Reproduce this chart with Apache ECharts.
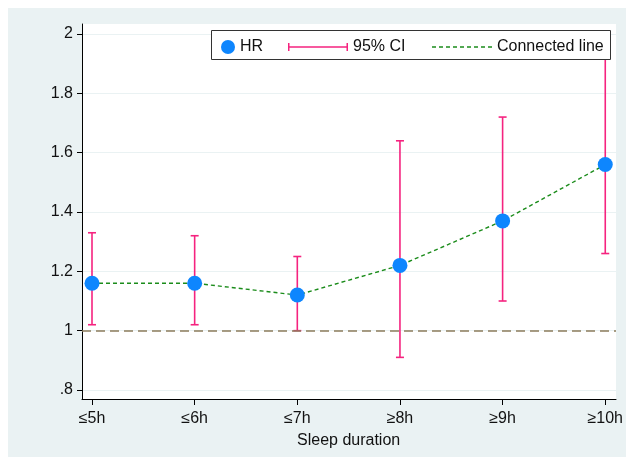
<!DOCTYPE html>
<html><head><meta charset="utf-8">
<script src="https://cdn.jsdelivr.net/npm/echarts@6/dist/echarts.min.js"></script>
<style>html,body{margin:0;padding:0;background:#fff}#c{width:626px;height:457px}</style>
</head><body><div id="c"></div>
<script>
const categories = ['≤5h', '≤6h', '≤7h', '≥8h', '≥9h', '≥10h'];
const hr = [1.16, 1.16, 1.12, 1.22, 1.37, 1.56];
const ciLow = [1.02, 1.02, 1.00, 0.91, 1.10, 1.26];
const ciHigh = [1.33, 1.32, 1.25, 1.64, 1.72, 2.00];
const yTicks = [0.8, 1.0, 1.2, 1.4, 1.6, 1.8, 2.0];
const refValue = 1;

const FONT = 'Liberation Sans, Arial, sans-serif';
const FS = 16;
const BG = '#EAF2F3';
const BLUE = '#0E86FE';
const PINK = '#F5237F';
const GREEN = '#1B8C1B';

let dashPath = 'path://';
for (let x = 0; x < 60; x += 7) dashPath += 'M' + x + ',0h4v1.4h-4z ';

const chart = echarts.init(document.getElementById('c'), null, {renderer: 'canvas'});
const ciData = categories.map((c, i) => [i, ciLow[i], ciHigh[i]]);
const legText = {fontSize: FS, color: '#111', fontFamily: FONT};

chart.setOption({
  backgroundColor: '#fff',
  animation: false,
  textStyle: {fontFamily: FONT},
  graphic: [
    {type: 'rect', z: -100, silent: true, shape: {x: 8, y: 8, width: 618, height: 449}, style: {fill: BG}},
    {type: 'rect', z: 50, silent: true, shape: {x: 211.5, y: 30.5, width: 399, height: 29}, style: {fill: '#fff', stroke: '#333', lineWidth: 1}}
  ],
  grid: [
    {left: 82, top: 24, width: 534, height: 375, show: true, backgroundColor: '#fff', borderWidth: 0},
    {left: 82, top: 34, width: 534, height: 356},
    {left: 92, top: 34, width: 514, height: 356}
  ],
  xAxis: [
    {gridIndex: 0, type: 'value', min: 0, max: 1, axisLine: {show: true, onZero: false, lineStyle: {color: '#000', width: 1}},
     axisTick: {show: false}, axisLabel: {show: false}, splitLine: {show: false}},
    {gridIndex: 1, type: 'value', min: 0, max: 1, show: false},
    {gridIndex: 2, type: 'category', data: categories, boundaryGap: false, offset: 9,
     axisLine: {show: false, onZero: false}, axisTick: {show: true, length: 6, lineStyle: {color: '#000'}},
     axisLabel: {color: '#111', fontSize: FS, fontFamily: FONT, margin: 12},
     name: 'Sleep duration', nameLocation: 'middle', nameGap: 34,
     nameTextStyle: {color: '#111', fontSize: FS, fontFamily: FONT}}
  ],
  yAxis: [
    {gridIndex: 0, type: 'value', min: 0, max: 1, axisLine: {show: true, onZero: false, lineStyle: {color: '#000', width: 1}},
     axisTick: {show: false}, axisLabel: {show: false}, splitLine: {show: false}},
    {gridIndex: 1, type: 'value', min: yTicks[0], max: yTicks[yTicks.length - 1], interval: 0.2,
     axisLine: {show: false}, axisTick: {show: true, length: 5, lineStyle: {color: '#000'}},
     axisLabel: {color: '#111', fontSize: FS, fontFamily: FONT, margin: 9,
       formatter: v => { const s = String(+v.toFixed(1)); return s.startsWith('0.') ? s.slice(1) : s; }},
     splitLine: {show: true, lineStyle: {color: BG, width: 1}}},
    {gridIndex: 2, type: 'value', min: yTicks[0], max: yTicks[yTicks.length - 1], show: false}
  ],
  legend: [
    {data: [{name: 'HR', icon: 'circle'}], left: 216, top: 34, itemWidth: 14, itemHeight: 14,
     textStyle: legText, selectedMode: false, z: 60},
    {data: [{name: '95% CI', icon: 'path://M0,0h1.5v8h-1.5z M0,3.25h60v1.5h-60z M58.5,0h1.5v8h-1.5z', itemStyle: {color: PINK}}],
     left: 283, top: 34, itemWidth: 60, itemHeight: 8,
     textStyle: legText, selectedMode: false, z: 60},
    {data: [{name: 'Connected line', icon: dashPath, itemStyle: {color: GREEN}}], left: 427, top: 34, itemWidth: 60, itemHeight: 1.4,
     textStyle: legText, selectedMode: false, z: 60}
  ],
  series: [
    {type: 'line', xAxisIndex: 1, yAxisIndex: 1, data: [], silent: true,
     markLine: {silent: true, symbol: 'none', label: {show: false},
       lineStyle: {color: '#8C7C5C', width: 1.6, type: [9, 5]}, data: [{yAxis: refValue}]}},
    {name: '95% CI', type: 'custom', xAxisIndex: 2, yAxisIndex: 2, clip: false, z: 3,
     itemStyle: {color: PINK},
     renderItem: (params, api) => {
       const x = api.value(0);
       const lo = api.coord([x, api.value(1)]);
       const hi = api.coord([x, api.value(2)]);
       const w = 4;
       const st = {stroke: PINK, lineWidth: 1.6};
       return {type: 'group', children: [
         {type: 'line', shape: {x1: lo[0], y1: lo[1], x2: hi[0], y2: hi[1]}, style: st},
         {type: 'line', shape: {x1: lo[0] - w, y1: lo[1], x2: lo[0] + w, y2: lo[1]}, style: st},
         {type: 'line', shape: {x1: hi[0] - w, y1: hi[1], x2: hi[0] + w, y2: hi[1]}, style: st}
       ]};
     },
     encode: {x: 0, y: [1, 2]}, data: ciData},
    {name: 'Connected line', type: 'line', xAxisIndex: 2, yAxisIndex: 2, data: hr, symbol: 'none', z: 4,
     itemStyle: {color: GREEN}, lineStyle: {color: GREEN, width: 1.4, type: [4, 3]}},
    {name: 'HR', type: 'scatter', xAxisIndex: 2, yAxisIndex: 2, data: hr, symbolSize: 15, z: 5,
     itemStyle: {color: BLUE, opacity: 1}}
  ]
});
</script></body></html>
